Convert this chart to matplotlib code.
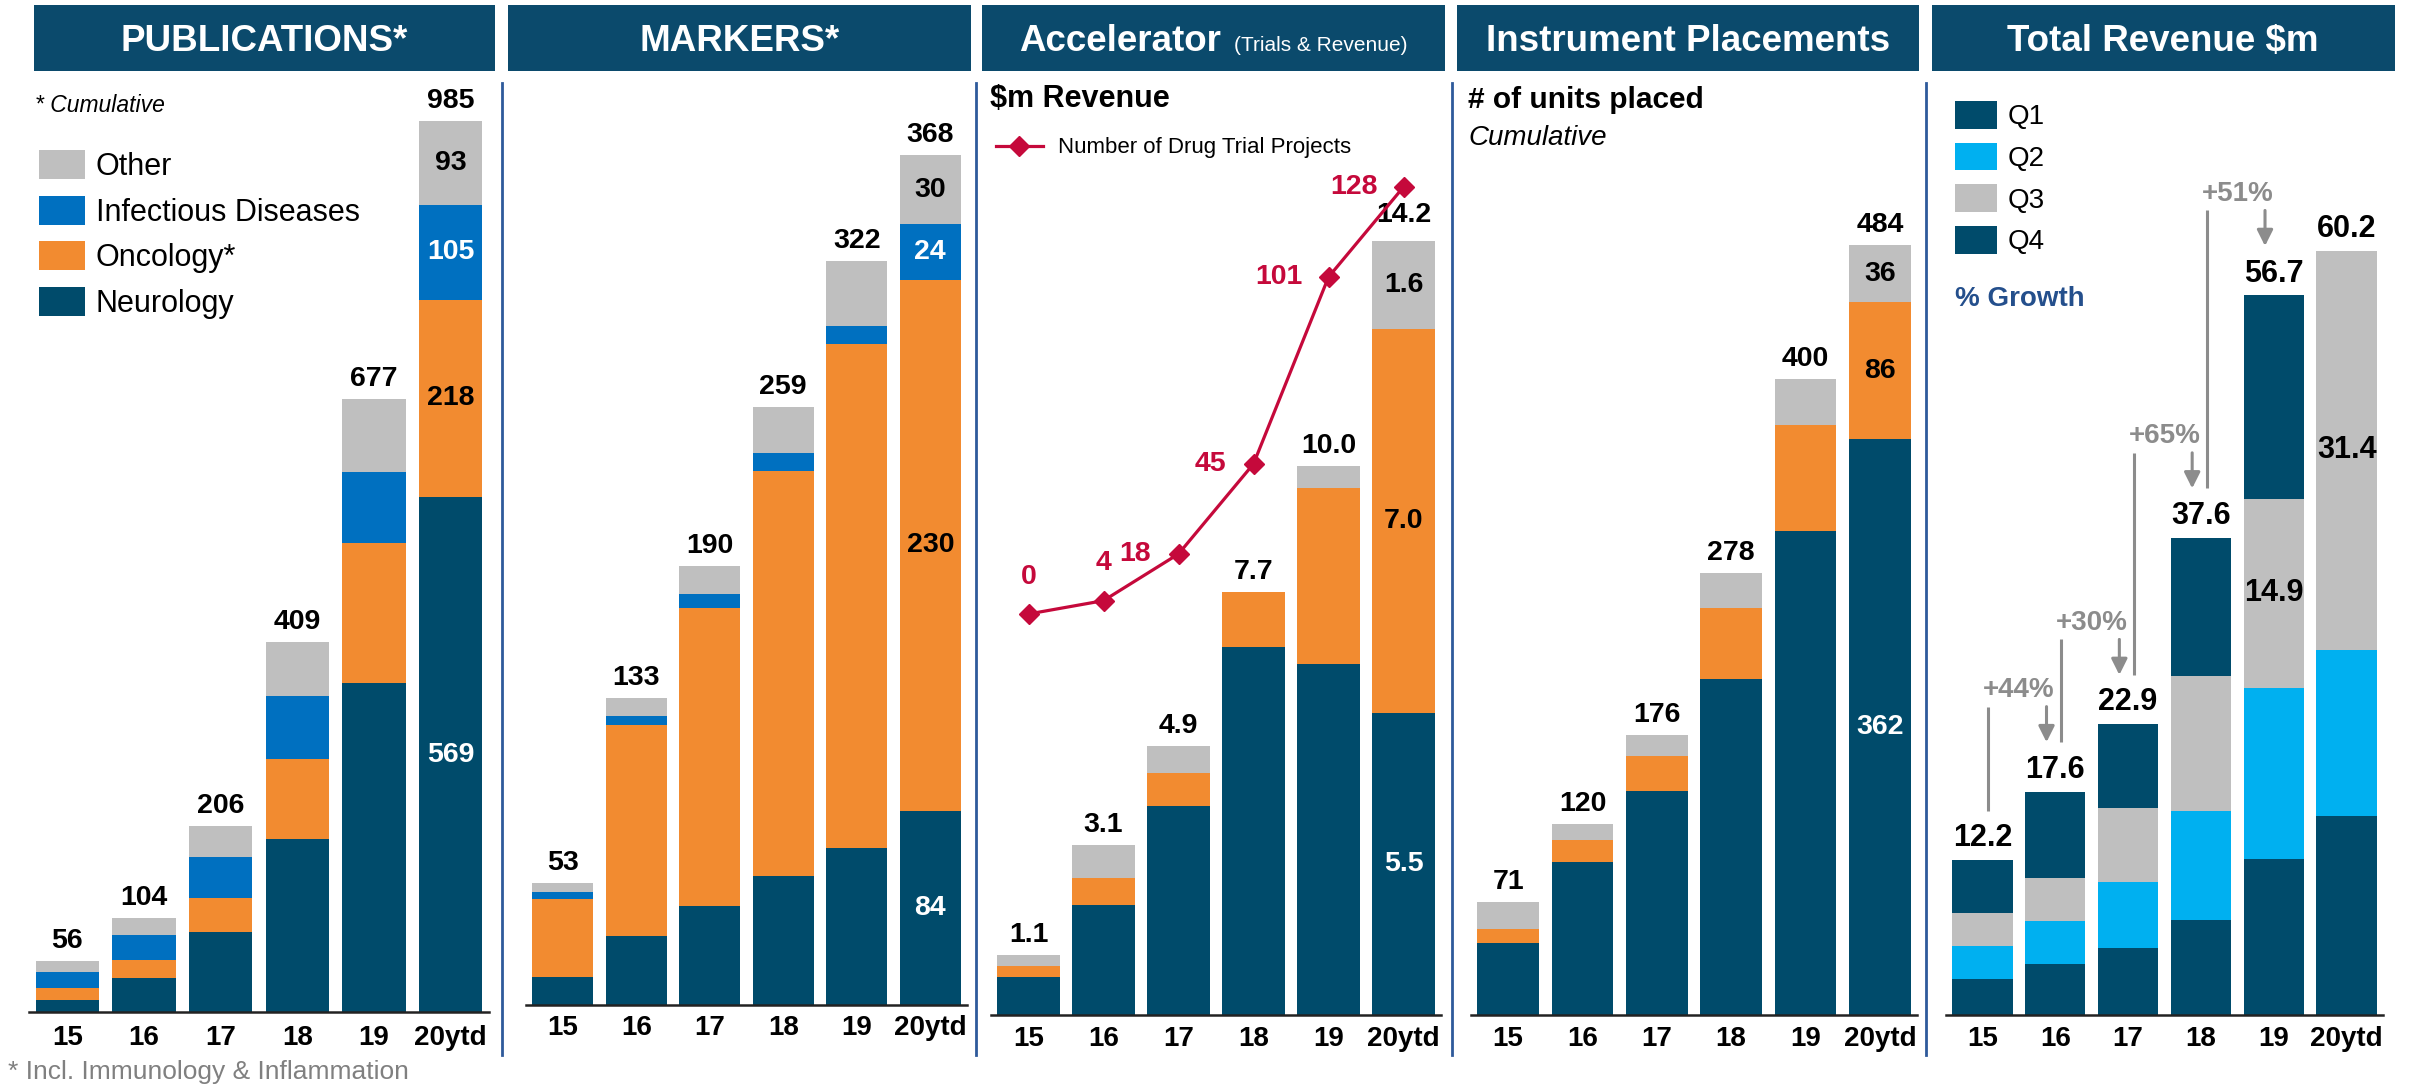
import matplotlib
matplotlib.use("Agg")
import matplotlib.pyplot as plt
from matplotlib.patches import Rectangle
from matplotlib.lines import Line2D

plt.rcParams["font.family"] = ["Liberation Sans", "DejaVu Sans"]

# ---------------------------------------------------------------------------
# Data
# ---------------------------------------------------------------------------
YEARS = ["15", "16", "17", "18", "19", "20ytd"]

pub_neuro = [13, 38, 88, 191, 363, 569]
pub_onc = [14, 20, 38, 89, 155, 218]
pub_inf = [17, 27, 45, 69, 79, 105]
pub_other = [12, 19, 35, 60, 80, 93]
pub_total = [56, 104, 206, 409, 677, 985]

mk_neuro = [12, 30, 43, 56, 68, 84]
mk_onc = [34, 91, 129, 175, 218, 230]
mk_inf = [3, 4, 6, 8, 8, 24]
mk_other = [4, 8, 12, 20, 28, 30]
mk_total = [53, 133, 190, 259, 322, 368]

acc_neuro = [0.7, 2.0, 3.8, 6.7, 6.4, 5.5]
acc_onc = [0.2, 0.5, 0.6, 1.0, 3.2, 7.0]
acc_other = [0.2, 0.6, 0.5, 0.0, 0.4, 1.6]
acc_total = [1.1, 3.1, 4.9, 7.7, 10.0, 14.2]
trial_projects = [0, 4, 18, 45, 101, 128]

inst_neuro = [45, 96, 141, 211, 304, 362]
inst_onc = [9, 14, 22, 45, 67, 86]
inst_other = [17, 10, 13, 22, 29, 36]
inst_total = [71, 120, 176, 278, 400, 484]

rev_q1 = [2.8, 4.0, 5.3, 7.5, 12.3, 15.7]
rev_q2 = [2.6, 3.4, 5.2, 8.6, 13.5, 13.1]
rev_q3 = [2.6, 3.4, 5.8, 10.6, 14.9, 31.4]
rev_q4 = [4.2, 6.8, 6.6, 10.9, 16.0, 0.0]
rev_total = [12.2, 17.6, 22.9, 37.6, 56.7, 60.2]
growth = ["+44%", "+30%", "+65%", "+51%"]

# ---------------------------------------------------------------------------
# Style
# ---------------------------------------------------------------------------
NAVY = "#004B6B"
ORANGE = "#F28B30"
BLUE = "#0070C0"
GREY = "#BFBFBF"
CYAN = "#00B0F0"
HEADER = "#0B4A6C"
SEP = "#2E5A9B"
RED = "#C5093B"
ARROW = "#8C8C8C"

W, H = 2412, 1084


def fx(px):
    return px / W


def fy(py):
    return 1 - py / H


def panel_axes(fig, left, right, base, ppu, top=80, pad=8):
    ax = fig.add_axes([fx(left), fy(base), (right - left) / W, (base - top) / H])
    ax.set_xlim(-0.5, 5.5)
    ax.set_ylim(0, (base - top) / ppu)
    for s in ("top", "right", "left"):
        ax.spines[s].set_visible(False)
    ax.spines["bottom"].set_color("#222222")
    ax.spines["bottom"].set_linewidth(1.8)
    ax.set_yticks([])
    ax.set_xticks(range(len(YEARS)), YEARS)
    ax.tick_params(axis="x", length=0, pad=pad, labelsize=20)
    for t in ax.get_xticklabels():
        t.set_fontweight("bold")
    ax.patch.set_alpha(0)
    return ax


def stack(ax, series, colors, width=0.83):
    x = list(range(len(YEARS)))
    bottom = [0.0] * len(x)
    handles, bottoms = [], []
    for vals, col in zip(series, colors):
        bottoms.append(list(bottom))
        b = ax.bar(x, vals, width, bottom=bottom, color=col, linewidth=0, zorder=2)
        handles.append(b)
        bottom = [bb + v for bb, v in zip(bottom, vals)]
    return handles, bottoms


def top_labels(ax, totals, fmt, size=20.5):
    for i, t in enumerate(totals):
        ax.annotate(fmt.format(t), (i, t), xytext=(0, 5), textcoords="offset points",
                    ha="center", va="bottom", fontsize=size, fontweight="bold", zorder=5)


def seg_labels(ax, idx, series, bottoms, colors, fmt, size=20.5):
    for vals, bot, col in zip(series, bottoms, colors):
        if vals[idx] <= 0:
            continue
        ax.text(idx, bot[idx] + vals[idx] / 2, fmt.format(vals[idx]), ha="center", va="center",
                fontsize=size, fontweight="bold", color=col, zorder=5)


fig = plt.figure(figsize=(W / 100, H / 100), dpi=100)

# headers
headers = [(34, 495), (508, 971), (982, 1445), (1457, 1919), (1932, 2395)]
for l, r in headers:
    fig.patches.append(Rectangle((fx(l), fy(71)), (r - l) / W, 66 / H, transform=fig.transFigure,
                                 facecolor=HEADER, edgecolor="none"))
hkw = dict(ha="center", va="baseline", color="white", fontsize=26.5, fontweight="bold")
fig.text(fx(264), fy(51), "PUBLICATIONS*", **hkw)
fig.text(fx(740), fy(51), "MARKERS*", **hkw)
fig.text(fx(1019), fy(51), "Accelerator", ha="left", va="baseline", color="white",
         fontsize=26.5, fontweight="bold")
fig.text(fx(1234), fy(51), "(Trials & Revenue)", ha="left", va="baseline", color="white", fontsize=15)
fig.text(fx(1688), fy(51), "Instrument Placements", **hkw)
fig.text(fx(2163), fy(51), "Total Revenue $m", **hkw)

# separators
for x in (502, 976, 1452, 1926):
    fig.add_artist(Line2D([fx(x), fx(x)], [fy(83), fy(1055)], color=SEP, lw=2))

# --- Publications ---
ax = panel_axes(fig, 29, 489, 1012, 0.905, pad=9.5)
ser = [pub_neuro, pub_onc, pub_inf, pub_other]
h, bots = stack(ax, ser, [NAVY, ORANGE, BLUE, GREY])
top_labels(ax, pub_total, "{:d}")
seg_labels(ax, 5, ser, bots, ["white", "black", "white", "black"], "{:d}")
fig.legend([h[3], h[2], h[1], h[0]], ["Other", "Infectious Diseases", "Oncology*", "Neurology"],
           loc="upper left", bbox_to_anchor=(fx(39), fy(150)), frameon=False, fontsize=22,
           handlelength=1.5, handleheight=1.1, labelspacing=0.44, handletextpad=0.35,
           borderpad=0, borderaxespad=0)
fig.text(fx(35), fy(112), "* Cumulative", style="italic", fontsize=16.5, va="baseline")
fig.text(fx(8), fy(1079), "* Incl. Immunology & Inflammation", color="#808080", fontsize=19,
         va="baseline")

# --- Markers ---
ax = panel_axes(fig, 526, 967, 1005, 2.31, pad=7)
ser = [mk_neuro, mk_onc, mk_inf, mk_other]
h, bots = stack(ax, ser, [NAVY, ORANGE, BLUE, GREY])
top_labels(ax, mk_total, "{:d}")
seg_labels(ax, 5, ser, bots, ["white", "black", "white", "black"], "{:d}")

# --- Accelerator ---
ax = panel_axes(fig, 991, 1441, 1015, 54.9)
ser = [acc_neuro, acc_onc, acc_other]
h, bots = stack(ax, ser, [NAVY, ORANGE, GREY])
top_labels(ax, acc_total, "{:.1f}")
seg_labels(ax, 5, ser, bots, ["white", "black", "black"], "{:.1f}")
ax2 = ax.twinx()
ax2.set_position(ax.get_position())
ax2.set_ylim((614 - 1015) / 3.336, (614 - 80) / 3.336)
ax2.set_yticks([])
for s in ax2.spines.values():
    s.set_visible(False)
ln, = ax2.plot(range(len(YEARS)), trial_projects, color=RED, lw=2.3, marker="D", markersize=10,
               label="Number of Drug Trial Projects", zorder=6)
offsets = [(0, 27), (0, 27), (-31, 0), (-31, 0), (-36, 0), (-36, 0)]
for i, (v, off) in enumerate(zip(trial_projects, offsets)):
    ax2.annotate(str(v), (i, v), xytext=off, textcoords="offset points", ha="center", va="center",
                 color=RED, fontsize=20.5, fontweight="bold")
fig.legend([ln], ["Number of Drug Trial Projects"], loc="center left",
           bbox_to_anchor=(fx(996), fy(148)), frameon=False, fontsize=16, handlelength=2.1,
           handletextpad=0.7, borderpad=0, borderaxespad=0)
fig.text(fx(990), fy(107), "$m Revenue", fontsize=22, fontweight="bold", va="baseline")

# --- Instrument placements ---
ax = panel_axes(fig, 1471, 1917, 1015, 1.591)
ser = [inst_neuro, inst_onc, inst_other]
h, bots = stack(ax, ser, [NAVY, ORANGE, GREY])
top_labels(ax, inst_total, "{:d}")
seg_labels(ax, 5, ser, bots, ["white", "black", "black"], "{:d}")
fig.text(fx(1468), fy(108), "# of units placed", fontsize=21.5, fontweight="bold", va="baseline")
fig.text(fx(1468), fy(145), "Cumulative", fontsize=20, style="italic", va="baseline")

# --- Total revenue ---
ax = panel_axes(fig, 1946, 2383, 1015, 12.69)
ser = [rev_q1, rev_q2, rev_q3, rev_q4]
h, bots = stack(ax, ser, [NAVY, CYAN, GREY, NAVY])
top_labels(ax, rev_total, "{:.1f}", size=22)
for idx in (4, 5):
    ax.text(idx, bots[2][idx] + rev_q3[idx] / 2, f"{rev_q3[idx]:.1f}", ha="center", va="center",
            fontsize=22, fontweight="bold", zorder=5)
for i, g in enumerate(growth):
    t0, t1 = rev_total[i], rev_total[i + 1]
    ax.plot([i + 0.08, i + 0.08], [t0 + 3.9, t1 + 6.7], color=ARROW, lw=2.2,
            solid_capstyle="butt", zorder=3)
    ax.annotate("", xy=(i + 0.88, t1 + 3.9), xytext=(i + 0.88, t1 + 6.7),
                arrowprops=dict(arrowstyle="-|>", color=ARROW, lw=2.2, mutation_scale=24,
                                shrinkA=0, shrinkB=0), zorder=3)
    ax.text(i + 0.5, t1 + 8.0, g, ha="center", va="center", color=ARROW, fontsize=20,
            fontweight="bold", zorder=4,
            bbox=dict(facecolor="white", edgecolor="none", pad=1.5))
fig.legend(h, ["Q1", "Q2", "Q3", "Q4"], loc="upper left", bbox_to_anchor=(fx(1955), fy(101)),
           frameon=False, fontsize=20, handlelength=1.5, handleheight=1.15, labelspacing=0.45,
           handletextpad=0.4, borderpad=0, borderaxespad=0)
fig.text(fx(1955), fy(306), "% Growth", fontsize=20, fontweight="bold", color="#244F8C",
         va="baseline")

fig.savefig("out.png", dpi=100)
